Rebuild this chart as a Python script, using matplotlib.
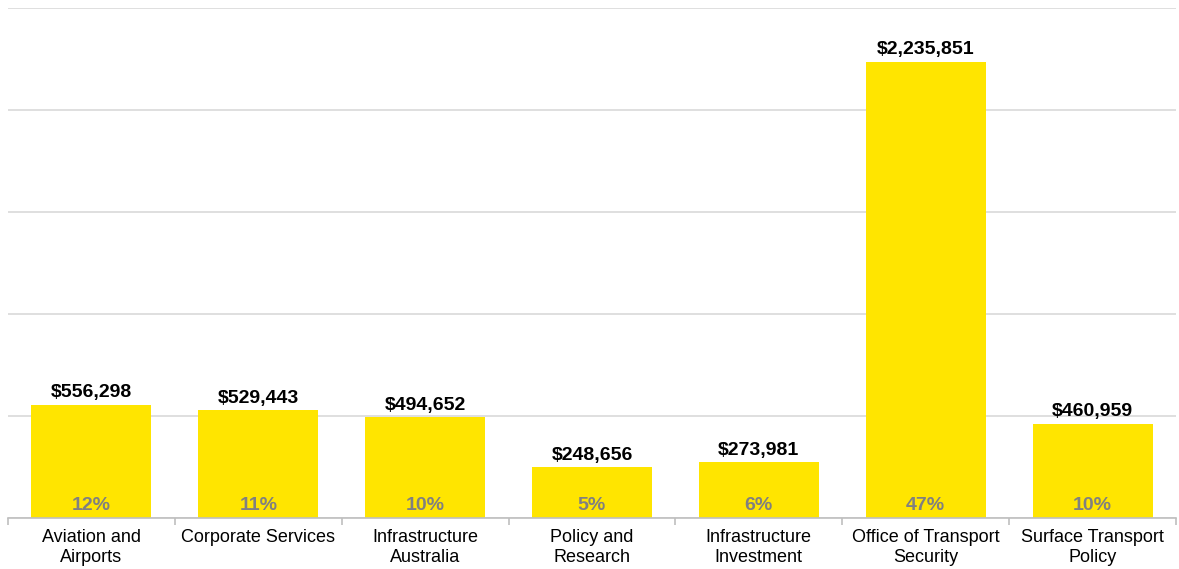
import matplotlib
matplotlib.use("Agg")
import matplotlib.pyplot as plt
import numpy as np

categories = ["Aviation and\nAirports", "Corporate Services", "Infrastructure\nAustralia",
              "Policy and\nResearch", "Infrastructure\nInvestment",
              "Office of Transport\nSecurity", "Surface Transport\nPolicy"]
values = [556298, 529443, 494652, 248656, 273981, 2235851, 460959]
percent_labels = ["12%", "11%", "10%", "5%", "6%", "47%", "10%"]

plt.rcParams['font.family'] = ['Liberation Sans', 'DejaVu Sans']

fig = plt.figure(figsize=(11.79, 5.69), dpi=100)
ax = fig.add_axes([8/1179, 51/569, 1168/1179, 510/569])

x = np.arange(len(categories))
bars = ax.bar(x, values, width=0.72, color="#FFE500", zorder=2)

ax.set_xlim(-0.5, len(categories) - 0.5)
ax.set_ylim(0, 2500000)
ax.set_yticks(np.arange(0, 2500001, 500000))
ax.yaxis.grid(True, color="#d9d9d9", linewidth=1.2, zorder=0)
ax.tick_params(axis='y', left=False, labelleft=False)

for s in ["top", "right", "left"]:
    ax.spines[s].set_visible(False)
ax.spines["bottom"].set_color("#bfbfbf")
ax.spines["bottom"].set_linewidth(1.2)
ax.spines["bottom"].set_zorder(3)

ax.set_xticks(x)
ax.set_xticklabels(categories, fontsize=13, color="#000000", linespacing=1.25)
ax.tick_params(axis='x', which='major', length=0, pad=8)
ax.set_xticks(np.arange(-0.5, len(categories), 1.0), minor=True)
ax.tick_params(axis='x', which='minor', length=5, color="#bfbfbf", width=1.2)

for xi, v in zip(x, values):
    ax.annotate(f"${v:,.0f}", (xi, v), xytext=(0, 2.5), textcoords="offset points",
                ha="center", va="bottom", fontsize=14, fontweight="bold", color="#000000")

for xi, p in zip(x, percent_labels):
    ax.annotate(p, (xi, 0), xytext=(0, 3), textcoords="offset points",
                ha="center", va="bottom", fontsize=14, fontweight="bold", color="#808080")

fig.savefig("out.png", dpi=100)
